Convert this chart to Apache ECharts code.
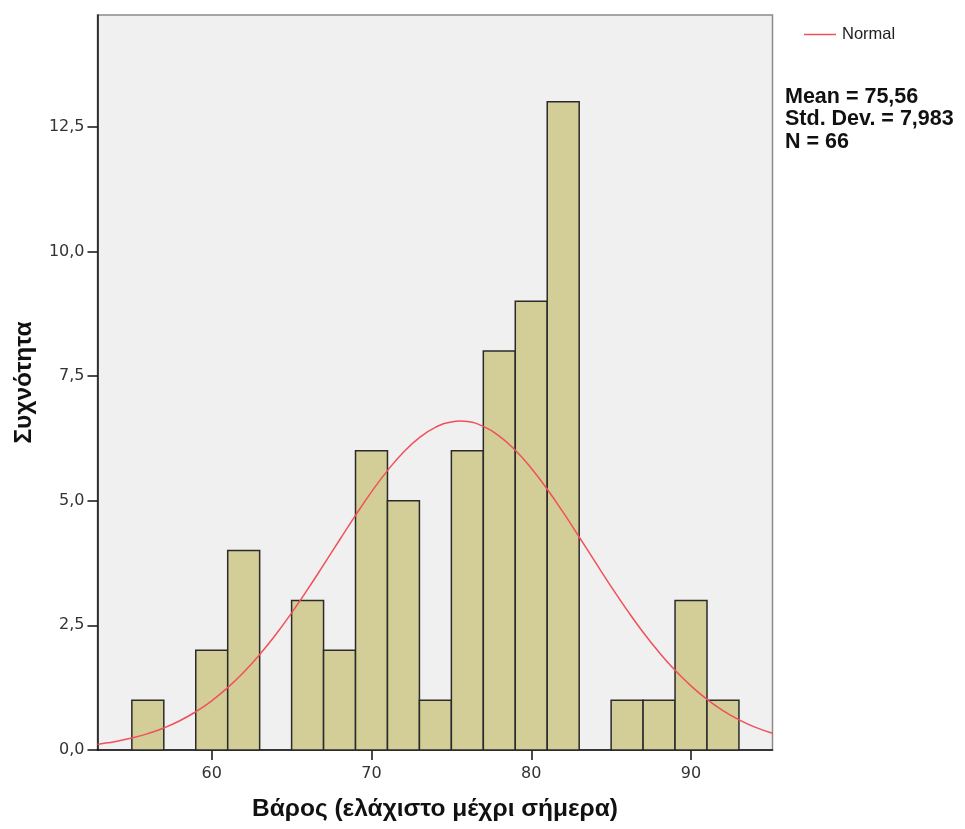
<!DOCTYPE html>
<html>
<head>
<meta charset="utf-8">
<script src="https://cdn.jsdelivr.net/npm/echarts@6/dist/echarts.min.js"></script>
<style>html,body{margin:0;padding:0;background:#fff}#c{width:965px;height:829px}</style>
</head>
<body>
<div id="c"></div>
<script>
// Histogram bins (start, end) and counts
const binStarts = [55, 57, 59, 61, 63, 65, 67, 69, 71, 73, 75, 77, 79, 81, 83, 85, 87, 89, 91];
const binWidth = 2;
const counts    = [1, 0, 2, 4, 0, 3, 2, 6, 5, 1, 6, 8, 9, 13, 0, 1, 1, 3, 1];
// Normal curve values
const curveX = [52.85, 53, 54, 55, 56, 57, 58, 59, 60, 61, 62, 63, 64, 65, 66, 67, 68, 69, 70, 71, 72, 73, 74, 75, 75.56, 76, 77, 78, 79, 80, 81, 82, 83, 84, 85, 86, 87, 88, 89, 90, 91, 92, 93, 94, 95.1];
const curveY = [0.117, 0.122, 0.172, 0.239, 0.328, 0.442, 0.587, 0.767, 0.987, 1.250, 1.559, 1.913, 2.312, 2.750, 3.220, 3.712, 4.212, 4.706, 5.176, 5.603, 5.972, 6.265, 6.471, 6.580, 6.596, 6.586, 6.489, 6.295, 6.011, 5.651, 5.229, 4.764, 4.272, 3.772, 3.278, 2.805, 2.362, 1.959, 1.599, 1.285, 1.016, 0.791, 0.607, 0.458, 0.336];
const xTicks = [60, 70, 80, 90];
const yTicks = [0, 2.5, 5, 7.5, 10, 12.5];
const statsLines = ['Mean = 75,56', 'Std. Dev. = 7,983', 'N = 66'];
const xTitle = 'Βάρος (ελάχιστο μέχρι σήμερα)';
const yTitle = 'Συχνότητα';

const chart = echarts.init(document.getElementById('c'), null, {renderer: 'canvas'});
const fontFam = '"Liberation Sans", Arial, sans-serif';
const tickFont = '"DejaVu Sans", sans-serif';
const barData = binStarts.map((s, i) => [s, s + binWidth, counts[i]]).filter(d => d[2] > 0);

chart.setOption({
  animation: false,
  backgroundColor: '#ffffff',
  grid: {left: 97.5, top: 15, right: 192.5, bottom: 79, show: true, backgroundColor: '#f0f0f0', borderColor: '#8a8a8a', borderWidth: 1.5},
  legend: {
    data: [{name: 'Normal', icon: 'rect'}],
    left: 799, top: 21, itemWidth: 32, itemHeight: 1.5, itemGap: 6, padding: 5,
    textStyle: {fontFamily: fontFam, fontSize: 16.5, color: '#222', padding: [0, 0, 0, 1]}
  },
  xAxis: {
    type: 'value', min: 52.85, max: 95.1,
    name: xTitle, nameLocation: 'middle', nameGap: 47,
    nameTextStyle: {fontFamily: fontFam, fontSize: 24.5, fontWeight: 'bold', color: '#111'},
    axisLine: {show: true, onZero: false, lineStyle: {color: '#111', width: 1.5}},
    axisTick: {show: true, length: 10, customValues: xTicks, lineStyle: {color: '#111', width: 1.5}},
    axisLabel: {customValues: xTicks, margin: 16, fontFamily: tickFont, fontSize: 16, color: '#333'},
    splitLine: {show: false}
  },
  yAxis: {
    type: 'value', min: 0, max: 14.74,
    name: yTitle, nameLocation: 'middle', nameGap: 61, nameRotate: 90,
    nameTextStyle: {fontFamily: fontFam, fontSize: 24.5, fontWeight: 'bold', color: '#111'},
    axisLine: {show: true, lineStyle: {color: '#111', width: 1.5}},
    axisTick: {show: true, length: 10, customValues: yTicks, lineStyle: {color: '#111', width: 1.5}},
    axisLabel: {customValues: yTicks, margin: 13, fontFamily: tickFont, fontSize: 16, color: '#333',
      formatter: v => v.toFixed(1).replace('.', ',')},
    splitLine: {show: false}
  },
  graphic: statsLines.map((t, i) => ({
    type: 'text', left: 785, top: 86 + i * 22.4,
    style: {text: t, font: 'bold 21.5px ' + fontFam, fill: '#111'}
  })),
  series: [
    {
      type: 'custom', name: 'hist', data: barData, z: 2,
      renderItem: (params, api) => {
        const p0 = api.coord([api.value(0), 0]);
        const p1 = api.coord([api.value(1), api.value(2)]);
        return {
          type: 'rect',
          shape: {x: p0[0], y: p1[1], width: p1[0] - p0[0], height: p0[1] - p1[1]},
          style: {fill: '#d3ce98', stroke: '#2a2a2a', lineWidth: 1.5}
        };
      },
      encode: {x: [0, 1], y: 2}
    },
    {
      type: 'line', name: 'Normal', z: 3,
      data: curveX.map((x, i) => [x, curveY[i]]),
      smooth: true, showSymbol: false, symbol: 'none',
      lineStyle: {color: '#f0505a', width: 1.5},
      itemStyle: {color: '#f0505a'}
    }
  ]
});
</script>
</body>
</html>
